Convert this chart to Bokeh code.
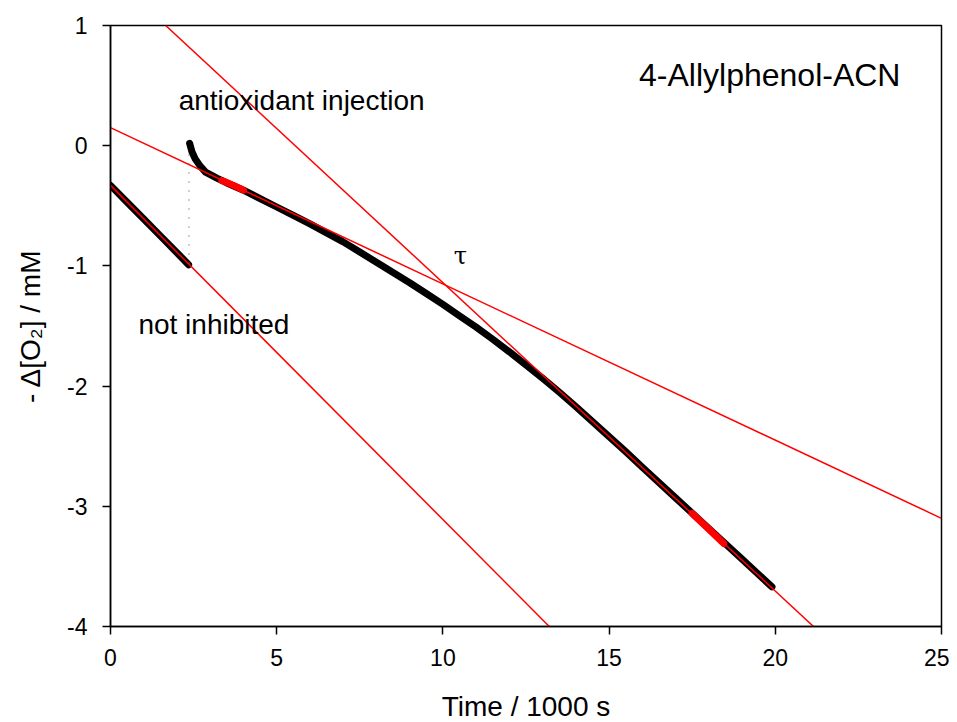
from bokeh.plotting import figure
from bokeh.models import Range1d, FixedTicker, ColumnDataSource
from bokeh.core.properties import value
from bokeh.embed import file_html
from bokeh.resources import INLINE

# ---- data ----
# not inhibited segment
seg1_x = [0.0, 0.5, 1.0, 1.5, 2.0, 2.35]
seg1_y = [-0.33, -0.47, -0.61, -0.75, -0.89, -0.99]

# after antioxidant injection
seg2_x = [2.38, 2.45, 2.55, 2.7, 2.86, 3.2, 3.5, 4.0, 4.5, 5, 5.5, 6, 6.5, 7,
          7.5, 8, 8.5, 9, 9.5, 10, 10.5, 11, 11.5, 12, 12.5, 13, 13.5, 14,
          14.5, 15, 15.5, 16, 17, 18, 19, 19.9]
seg2_y = [0.02, -0.05, -0.11, -0.17, -0.22, -0.27, -0.31, -0.37, -0.44, -0.51,
          -0.58, -0.65, -0.725, -0.80, -0.885, -0.97, -1.055, -1.14, -1.23, -1.32,
          -1.415, -1.51, -1.61, -1.715, -1.825, -1.935, -2.05, -2.17, -2.295, -2.42,
          -2.545, -2.675, -2.93, -3.185, -3.44, -3.67]

# highlighted (fitted) points
hl1_x = [3.35, 3.7, 4.0]
hl1_y = [-0.29, -0.33, -0.37]
hl2_x = [17.5, 18.0, 18.45]
hl2_y = [-3.06, -3.19, -3.31]

# fitted lines (endpoints across the axis range)
fit1_x = [0.0, 13.2]
fit1_y = [-0.33, -4.0]
fit2_x = [0.0, 25.0]
fit2_y = [0.15, -3.10]
fit3_x = [1.66, 21.15]
fit3_y = [1.0, -4.0]

# injection marker
inj_x = [2.36, 2.36]
inj_y = [-0.98, -0.04]

x_ticks = [0, 5, 10, 15, 20, 25]
y_ticks = [-4, -3, -2, -1, 0, 1]
y_tick_labels = ["-4", "-3", "-2", "-1", "0", "1"]

labels_text = ["antioxidant injection", "not inhibited"]
labels_x = [2.05, 0.84]
labels_y = [0.38, -1.49]

title_text = ["4-Allylphenol-ACN"]
title_x = [15.9]
title_y = [0.585]

tau_text = ["τ"]
tau_x = [10.33]
tau_y = [-0.915]

FONT = "Liberation Sans"

p = figure(width=949, height=722, output_backend="svg", toolbar_location=None,
           x_range=Range1d(0, 25), y_range=Range1d(-4, 1),
           min_border_left=110, min_border_right=8, min_border_top=25,
           min_border_bottom=96)
p.frame_width = 831
p.frame_height = 601

p.xgrid.visible = False
p.ygrid.visible = False
p.outline_line_color = "black"
p.outline_line_width = 1.5
p.background_fill_color = "white"
p.border_fill_color = "white"

for ax, ticks in ((p.xaxis, x_ticks), (p.yaxis, y_ticks)):
    ax.ticker = FixedTicker(ticks=ticks)
    ax.minor_tick_line_color = None
    ax.major_tick_in = 0
    ax.major_tick_out = 8
    ax.major_tick_line_width = 1.5
    ax.axis_line_width = 1.5
    ax.major_label_text_font = FONT
    ax.major_label_text_font_size = "23px"
    ax.major_label_text_color = "black"
    ax.axis_label_text_font = FONT
    ax.axis_label_text_font_size = "28px"
    ax.axis_label_text_font_style = "normal"
    ax.axis_label_text_color = "black"

p.yaxis.major_label_overrides = {t: s for t, s in zip(y_ticks, y_tick_labels)}
p.xaxis.axis_label = "Time / 1000 s"
p.yaxis.axis_label = "- Δ[O₂] / mM"
p.xaxis.major_label_standoff = 14
p.yaxis.major_label_standoff = 15
p.xaxis.axis_label_standoff = 22
p.yaxis.axis_label_standoff = 18

# data (thick black)
p.line(seg1_x, seg1_y, line_color="black", line_width=7, line_cap="round", line_join="round")
p.line(seg2_x, seg2_y, line_color="black", line_width=7, line_cap="round", line_join="round")

# injection dotted line
p.line(inj_x, inj_y, line_color="#808080", line_width=1.5, line_dash="1 8")

# highlighted fitting points
p.line(hl1_x, hl1_y, line_color="red", line_width=7, line_cap="round")
p.line(hl2_x, hl2_y, line_color="red", line_width=7, line_cap="round")

# fitted lines
for fx, fy in ((fit1_x, fit1_y), (fit2_x, fit2_y), (fit3_x, fit3_y)):
    p.line(fx, fy, line_color="red", line_width=1.5)

src = ColumnDataSource(dict(x=labels_x, y=labels_y, t=labels_text))
p.text(x="x", y="y", text="t", source=src, text_font=value(FONT),
       text_font_size="28px", text_color="black", text_align="left",
       text_baseline="alphabetic")
p.text(x=title_x, y=title_y, text=title_text, text_font=value(FONT),
       text_font_size="32px", text_color="black", text_align="left",
       text_baseline="alphabetic")
p.text(x=tau_x, y=tau_y, text=tau_text, text_font=value("DejaVu Serif"),
       text_font_size="24px", text_color="black", text_align="left",
       text_baseline="alphabetic")

open("out.html", "w").write(file_html(p, INLINE))
